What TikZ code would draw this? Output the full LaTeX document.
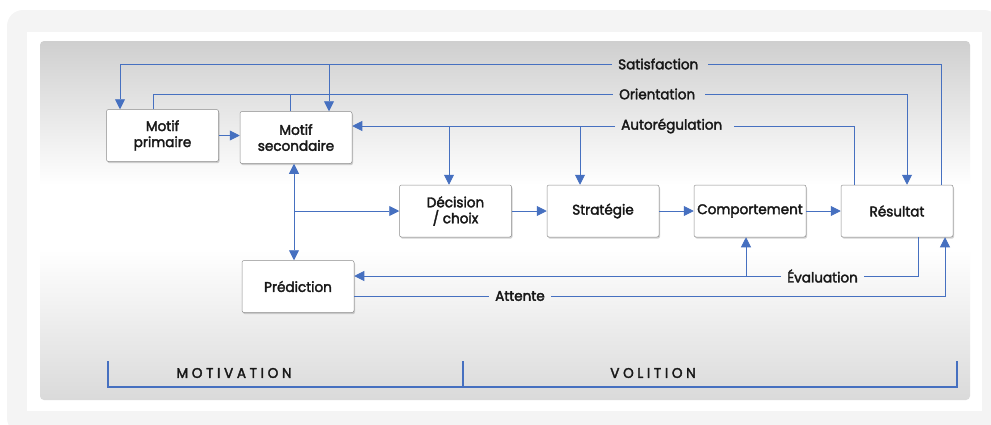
\documentclass[tikz,border=0pt]{standalone}
\usepackage{fontspec}
\newfontfamily\lbl{Poppins}[FakeStretch=0.97,FakeBold=2.4]
\usetikzlibrary{arrows.meta,shadows}

\definecolor{flowblue}{RGB}{70,112,192}
\definecolor{framegrey}{RGB}{244,244,244}
\definecolor{paneltop}{RGB}{207,207,207}
\definecolor{panelbot}{RGB}{218,218,218}
\definecolor{inkdark}{RGB}{24,24,24}

% vertical shading for the panel: grey at top and bottom, white band in the middle
\pgfdeclareverticalshading{panelshade}{100bp}{%
  color(0bp)=(panelbot); color(25bp)=(panelbot);
  color(46bp)=(white); color(55bp)=(white);
  color(75bp)=(paneltop); color(100bp)=(paneltop)}

\begin{document}
\begin{tikzpicture}[x=1pt,y=-1pt,
  stepbox/.style={draw=black!45,line width=0.5pt,fill=white,rounded corners=2pt,
    minimum width=112pt,minimum height=52pt,align=center,inner sep=1pt,
    font=\lbl\fontsize{14}{16}\selectfont,text=inkdark,
    drop shadow={shadow xshift=1pt,shadow yshift=-1.6pt,opacity=0.35}},
  ln/.style={draw=flowblue,line width=0.9pt},
  tip/.style={-{Triangle[length=10pt,width=10pt]}},
  biarrow/.style={{Triangle[length=10pt,width=10pt]}-{Triangle[length=10pt,width=10pt]}},
  linelabel/.style={anchor=west,inner xsep=6pt,inner ysep=0pt,
    font=\lbl\fontsize{14}{16}\selectfont,text=inkdark},
  phase/.style={font=\lbl\fontsize{14}{16}\selectfont\addfontfeature{LetterSpace=26},text=inkdark},
  bracket/.style={draw=flowblue,line width=1.4pt},
  bracktick/.style={draw=flowblue,line width=2pt}]

\useasboundingbox (0,0) rectangle (991,424);

% background frame, inner sheet and shaded panel
\fill[framegrey,rounded corners=16pt] (7,10) rectangle (1000,434);
\fill[white] (27,32) rectangle (982,411);
\shade[shading=panelshade,rounded corners=4pt] (40,41) rectangle (970,400);

% boxes
\node[stepbox] (mp) at (162.5,135.5) {Motif\\primaire};
\node[stepbox] (ms) at (296,137.5) {Motif\\secondaire};
\node[stepbox] (dc) at (455.5,211) {Décision\\/ choix};
\node[stepbox] (st) at (603,211) {Stratégie};
\node[stepbox] (co) at (750,211) {Comportement};
\node[stepbox] (re) at (897,211) {Résultat};
\node[stepbox] (pr) at (298,286.5) {Prédiction};

% line labels
\node[linelabel] (sat) at (612,64) {Satisfaction};
\node[linelabel] (ori) at (613,94) {Orientation};
\node[linelabel] (aut) at (615,126) {Autorégulation};
\node[linelabel] (eva) at (781,276) {Évaluation};
\node[linelabel] (att) at (489,296) {Attente};

% anchor points for the vertical branches
\coordinate (reSat) at ([xshift=44pt]re.north);
\coordinate (reOri) at ([xshift=10pt]re.north);
\coordinate (reAut) at ([xshift=-43pt]re.north);
\coordinate (mpSat) at ([xshift=-42.5pt]mp.north);
\coordinate (mpOri) at ([xshift=-9.5pt]mp.north);
\coordinate (msSat) at ([xshift=33pt]ms.north);
\coordinate (msOri) at ([xshift=-6pt]ms.north);
\coordinate (dcAut) at ([xshift=-6.5pt]dc.north);
\coordinate (stAut) at ([xshift=-23pt]st.north);
\coordinate (msBot) at ([xshift=-2pt]ms.south);
\coordinate (reEva) at ([xshift=21pt]re.south);
\coordinate (reAtt) at ([xshift=48pt]re.south);
\coordinate (coEva) at ([xshift=-4pt]co.south);

% Satisfaction
\draw[ln] (reSat) |- ([xshift=4pt]sat.east);
\draw[ln,tip] (sat.west) -| (mpSat);
\draw[ln,tip] (msSat |- sat.west) -- (msSat);

% Orientation
\draw[ln] (mpOri) |- (ori.west);
\draw[ln,tip] ([xshift=4pt]ori.east) -| (reOri);
\draw[ln] (msOri) -- (msOri |- ori.west);

% Autoregulation
\draw[ln] (reAut) |- ([xshift=6pt]aut.east);
\draw[ln,tip] (aut.west) -- (ms.east |- aut.west);
\draw[ln,tip] (dcAut |- aut.west) -- (dcAut);
\draw[ln,tip] (stAut |- aut.west) -- (stAut);

% main chain
\draw[ln,tip] (mp.east) -- (mp.east -| ms.west);
\draw[ln,biarrow] (msBot) -- (msBot |- pr.north);
\draw[ln,tip] (msBot |- dc.west) -- (dc.west);
\draw[ln,tip] (dc.east) -- (st.west);
\draw[ln,tip] (st.east) -- (co.west);
\draw[ln,tip] (co.east) -- (re.west);

% Evaluation
\draw[ln] (reEva) |- (eva.east);
\draw[ln,tip] (eva.west) -- (pr.east |- eva.west);
\draw[ln,tip] (coEva |- eva.west) -- (coEva);

% Attente
\draw[ln] (pr.east |- att.west) -- (att.west);
\draw[ln,tip] (att.east) -| (reAtt);

% phase bracket
\coordinate (bL) at (108,387);
\coordinate (bM) at (463,387);
\coordinate (bR) at (957,387);
\draw[bracket] (bL) -- (bR);
\draw[bracktick] ([yshift=-0.7pt]bL) -- ++(0,-27);
\draw[bracktick] ([yshift=-0.7pt]bM) -- ++(0,-27);
\draw[bracktick] ([yshift=-0.7pt]bR) -- ++(0,-27);
\node[phase] (mot) at (234,373) {MOTIVATION};
\node[phase] (vol) at (653,373) {VOLITION};

\end{tikzpicture}
\end{document}
